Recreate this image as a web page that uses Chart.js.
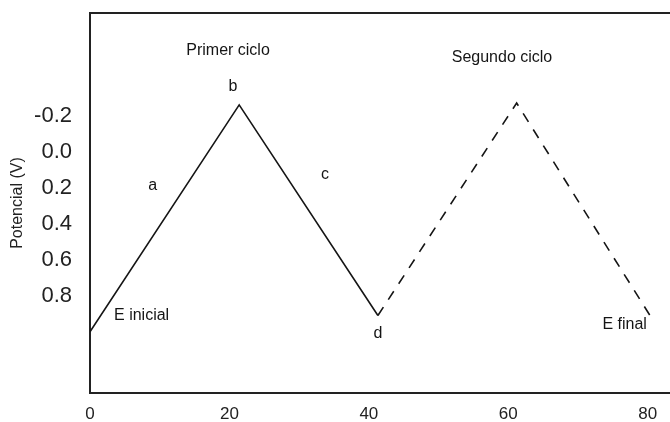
<!DOCTYPE html>
<html>
<head>
<meta charset="utf-8">
<script src="https://cdn.jsdelivr.net/npm/chart.js@4/dist/chart.umd.min.js"></script>
<style>
  html, body { margin: 0; padding: 0; background: #fff; overflow: hidden; }
  #wrap { width: 670px; height: 422px; position: relative; }
</style>
</head>
<body>
<div id="wrap"><canvas id="cv-chart"></canvas></div>
<script>
// --- data ---
const timeFirst = [0, 21.4, 41.3];          // primer ciclo (solid)
const potentialFirst = [1.0, -0.26, 0.91];
const timeSecond = [41.3, 61.2, 80.5];      // segundo ciclo (dashed)
const potentialSecond = [0.91, -0.27, 0.92];

const xTicks = [0, 20, 40, 60, 80];
const yTicks = [-0.2, 0.0, 0.2, 0.4, 0.6, 0.8];

// text labels in data units
const noteText = ['Primer ciclo', 'b', 'a', 'c', 'E inicial', 'd', 'Segundo ciclo', 'E final'];
const noteX = [19.8, 20.5, 9.0, 33.7, 7.4, 41.3, 59.1, 76.7];
const noteY = [-0.56, -0.36, 0.19, 0.13, 0.91, 1.01, -0.52, 0.96];

const INK = '#151515';
const FONT = 'Arial, "Liberation Sans", sans-serif';

const notesPlugin = {
    id: 'notes',
    afterDatasetsDraw(chart) {
        const { ctx, scales } = chart;
        ctx.save();
        ctx.fillStyle = INK;
        ctx.font = '16px ' + FONT;
        ctx.textAlign = 'center';
        ctx.textBaseline = 'middle';
        noteText.forEach((t, i) => {
            ctx.fillText(t, scales.x.getPixelForValue(noteX[i]), scales.y.getPixelForValue(noteY[i]));
        });
        ctx.restore();
    }
};

// no automatic room for edge labels: the frame sits where the picture has it
const noEdgePad = s => {
    s.paddingTop = 0; s.paddingBottom = 0;
    s.paddingLeft = 0; s.paddingRight = 0;
};

new Chart(document.getElementById('cv-chart'), {
    type: 'line',
    data: {
        datasets: [
            {
                label: 'Primer ciclo',
                data: timeFirst.map((x, i) => ({ x, y: potentialFirst[i] })),
                borderColor: INK,
                borderWidth: 1.6,
                pointRadius: 0,
                tension: 0,
                fill: false
            },
            {
                label: 'Segundo ciclo',
                data: timeSecond.map((x, i) => ({ x, y: potentialSecond[i] })),
                borderColor: INK,
                borderWidth: 1.6,
                borderDash: [10, 9],
                pointRadius: 0,
                tension: 0,
                fill: false
            }
        ]
    },
    options: {
        responsive: true,
        maintainAspectRatio: false,
        animation: false,
        layout: { padding: { top: 13, right: 0, bottom: 0, left: 0 } },
        plugins: {
            legend: { display: false },
            tooltip: { enabled: false }
        },
        scales: {
            x: {
                type: 'linear',
                position: 'bottom',
                min: 0,
                max: 83.2,
                afterBuildTicks: s => { s.ticks = xTicks.map(v => ({ value: v })); },
                afterFit: s => { s.height = 29; noEdgePad(s); },
                grid: { display: false, drawTicks: false },
                border: { display: true, color: '#222', width: 2 },
                ticks: {
                    color: '#222',
                    font: { family: FONT, size: 17 },
                    padding: 11,
                    maxRotation: 0
                }
            },
            xTop: {
                type: 'linear',
                position: 'top',
                min: 0,
                max: 83.2,
                afterFit: s => { s.height = 0; noEdgePad(s); },
                grid: { display: false, drawTicks: false },
                border: { display: true, color: '#222', width: 2 },
                ticks: { display: false }
            },
            y: {
                type: 'linear',
                reverse: true,
                min: -0.77,
                max: 1.34,
                afterBuildTicks: s => { s.ticks = yTicks.map(v => ({ value: v })); },
                afterFit: s => { s.width = 90; noEdgePad(s); },
                grid: { display: false, drawTicks: false },
                border: { display: true, color: '#222', width: 2 },
                ticks: {
                    color: '#222',
                    font: { family: FONT, size: 22 },
                    padding: 18,
                    callback: v => v.toFixed(1)
                },
                title: {
                    display: true,
                    text: 'Potencial (V)',
                    color: '#222',
                    font: { family: FONT, size: 16 },
                    padding: { top: 8, bottom: 0 }
                }
            }
        }
    },
    plugins: [notesPlugin]
});
</script>
</body>
</html>
